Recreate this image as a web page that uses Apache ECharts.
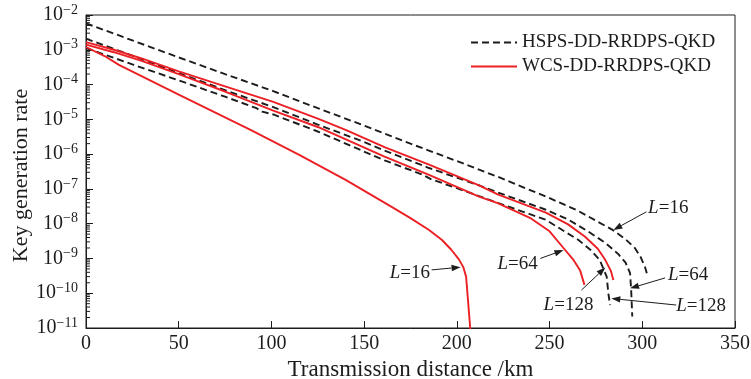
<!DOCTYPE html>
<html>
<head>
<meta charset="utf-8">
<script src="https://cdn.jsdelivr.net/npm/echarts@6/dist/echarts.min.js"></script>
<style>
  html, body { margin: 0; padding: 0; background: #fff; }
  #chart { width: 751px; height: 379px; }
</style>
</head>
<body>
<div id="chart"></div>
<script>
// [distance km, log10(key generation rate)]
const hsps16 = [[0,-2.24],[25,-2.73],[50,-3.22],[75,-3.70],[101,-4.19],[125,-4.68],[150,-5.18],[175,-5.70],[200,-6.20],[222,-6.65],[248,-7.22],[265,-7.62],[284,-8.18],[291,-8.45],[296,-8.70],[299,-8.95],[301.5,-9.25],[303,-9.53]];
const hsps64 = [[0,-2.68],[25,-3.17],[50,-3.67],[75,-4.16],[101,-4.65],[125,-5.15],[150,-5.65],[161,-5.90],[185,-6.40],[212,-6.90],[222,-7.10],[248,-7.60],[260,-7.88],[271,-8.23],[280,-8.55],[287,-8.87],[291,-9.12],[293.4,-9.42],[294,-9.9],[294.6,-10.67]];
const hsps128 = [[0,-2.95],[25,-3.42],[50,-3.88],[75,-4.35],[92,-4.68],[95,-4.78],[101,-4.86],[125,-5.35],[161,-6.18],[181,-6.58],[186,-6.72],[200,-6.98],[222,-7.40],[248,-7.89],[265.6,-8.47],[272,-8.75],[277,-9.04],[280.8,-9.52],[281.7,-10.0],[282.6,-10.34]];
const wcs16 = [[0,-2.92],[10,-3.18],[18,-3.44],[50,-4.29],[89,-5.31],[115,-6.02],[140,-6.74],[163,-7.46],[175,-7.84],[185,-8.18],[192,-8.47],[197,-8.75],[201,-9.02],[203.5,-9.25],[205,-9.53],[206,-10.2],[207.5,-11.2]];
const wcs64 = [[0,-2.85],[15,-3.07],[30,-3.32],[50,-3.70],[75,-4.20],[101,-4.75],[125,-5.22],[161,-6.07],[185,-6.60],[212,-7.22],[222,-7.41],[240,-7.85],[250,-8.22],[257.5,-8.7],[263,-9.05],[266.5,-9.35],[268.8,-9.76]];
const wcs128 = [[0,-2.78],[15,-3.0],[30,-3.25],[50,-3.62],[75,-4.05],[101,-4.50],[125,-4.98],[140,-5.30],[161,-5.80],[185,-6.30],[212,-6.90],[222,-7.16],[248,-7.68],[260,-8.02],[269,-8.37],[276,-8.72],[280,-9.04],[283,-9.35],[284.4,-9.62]];

const legendNames = ['HSPS-DD-RRDPS-QKD', 'WCS-DD-RRDPS-QKD'];

// annotations: label, text position, arrow tail, arrow tip (km, log10)
const notes = [
  { text: '16',  at: [174.7, -9.42], from: [186.4, -9.33], to: [202.0, -9.25] },
  { text: '64',  at: [232.8, -9.16], from: [245.0, -9.00], to: [257.5, -8.76] },
  { text: '128', at: [260.2, -10.34], from: [267.2, -9.91], to: [280.1, -9.26] },
  { text: '16',  at: [314.0, -7.55], from: [302.2, -7.66], to: [284.4, -8.18] },
  { text: '64',  at: [324.7, -9.48], from: [312.3, -9.56], to: [293.4, -9.86] },
  { text: '128', at: [331.7, -10.37], from: [318.3, -10.34], to: [283.3, -10.15] }
];

const FONT = '"Liberation Serif", "DejaVu Serif", serif';
const BLACK = '#1c1c1c';
const RED = '#ec2024';

const toPts = arr => arr.map(p => [p[0], Math.pow(10, p[1])]);

function lineSeries(name, arr, color, dashed) {
  return {
    name: name,
    type: 'line',
    data: toPts(arr),
    symbol: 'none',
    clip: true,
    lineStyle: { color: color, width: 1.9, type: dashed ? [7, 4] : 'solid' },
    itemStyle: { color: color }
  };
}

const chart = echarts.init(document.getElementById('chart'));

const option = {
  animation: false,
  backgroundColor: '#fff',
  grid: {
    left: 86, right: 16, top: 15, bottom: 51,
    outerBoundsMode: 'none',
    show: true, borderColor: BLACK, borderWidth: 1
  },
  legend: {
    data: legendNames,
    orient: 'vertical',
    left: 470,
    top: 33,
    padding: 0,
    itemWidth: 46,
    itemHeight: 14,
    itemGap: 5,
    itemStyle: { opacity: 0 },
    textStyle: { fontFamily: FONT, fontSize: 19, color: BLACK }
  },
  xAxis: {
    type: 'value',
    min: 0, max: 350, interval: 50,
    name: 'Transmission distance /km',
    nameLocation: 'middle',
    nameGap: 27,
    nameTextStyle: { fontFamily: FONT, fontSize: 23, color: BLACK },
    axisLine: { lineStyle: { color: BLACK, width: 1 } },
    axisTick: { inside: true, length: 7, lineStyle: { color: BLACK } },
    axisLabel: { fontFamily: FONT, fontSize: 20, color: BLACK, margin: 6 },
    splitLine: { show: false }
  },
  yAxis: {
    type: 'log',
    logBase: 10,
    min: 1e-11, max: 1e-2,
    interval: 1,
    name: 'Key generation rate',
    nameLocation: 'middle',
    nameGap: 54,
    nameMoveOverlap: false,
    nameTextStyle: { fontFamily: FONT, fontSize: 22, color: BLACK, padding: [0, 8, 0, 0] },
    axisLine: { lineStyle: { color: BLACK, width: 1 } },
    axisTick: { inside: true, length: 7, lineStyle: { color: BLACK } },
    axisLabel: {
      margin: 8,
      formatter: function (v) {
        const e = Math.round(Math.log10(v));
        return '{b|10}{s|\u2212' + Math.abs(e) + '}';
      },
      rich: {
        b: { fontFamily: FONT, fontSize: 20, color: BLACK },
        s: { fontFamily: FONT, fontSize: 14, color: BLACK, verticalAlign: 'bottom', padding: [0, 0, 10, 0] }
      }
    },
    splitLine: { show: false }
  },
  series: [
    lineSeries(legendNames[0], hsps16, BLACK, true),
    lineSeries(legendNames[0], hsps64, BLACK, true),
    lineSeries(legendNames[0], hsps128, BLACK, true),
    lineSeries(legendNames[1], wcs16, RED, false),
    lineSeries(legendNames[1], wcs64, RED, false),
    lineSeries(legendNames[1], wcs128, RED, false)
  ]
};

chart.setOption(option);

// minor log ticks and annotations, placed through the axes
const px = p => chart.convertToPixel({ xAxisIndex: 0, yAxisIndex: 0 }, [p[0], Math.pow(10, p[1])]);
const graphics = [];
const x0 = chart.convertToPixel({ xAxisIndex: 0 }, 0);
for (let n = -11; n < -2; n++) {
  for (let k = 2; k <= 9; k++) {
    const y = chart.convertToPixel({ yAxisIndex: 0 }, k * Math.pow(10, n));
    graphics.push({
      type: 'line', silent: true,
      shape: { x1: x0, y1: y, x2: x0 + 4, y2: y },
      style: { stroke: BLACK, lineWidth: 1 }
    });
  }
}
notes.forEach(nt => {
  const a = px(nt.from), b = px(nt.to), c = px(nt.at);
  const ang = Math.atan2(b[1] - a[1], b[0] - a[0]);
  const hl = 9, hw = 3.2;
  const bx = b[0] - hl * Math.cos(ang), by = b[1] - hl * Math.sin(ang);
  graphics.push({
    type: 'line', silent: true,
    shape: { x1: a[0], y1: a[1], x2: bx, y2: by },
    style: { stroke: BLACK, lineWidth: 1 }
  });
  graphics.push({
    type: 'polygon', silent: true,
    shape: { points: [
      [b[0], b[1]],
      [bx - hw * Math.sin(ang), by + hw * Math.cos(ang)],
      [bx + hw * Math.sin(ang), by - hw * Math.cos(ang)]
    ] },
    style: { fill: BLACK }
  });
  graphics.push({
    type: 'text', silent: true,
    x: c[0], y: c[1],
    style: {
      text: '{i|L}=' + nt.text,
      rich: { i: { fontStyle: 'italic', fontFamily: FONT, fontSize: 19, fill: BLACK } },
      font: '19px ' + FONT,
      fill: BLACK,
      align: 'center',
      verticalAlign: 'middle'
    }
  });
});
chart.setOption({ graphic: graphics });
</script>
</body>
</html>
